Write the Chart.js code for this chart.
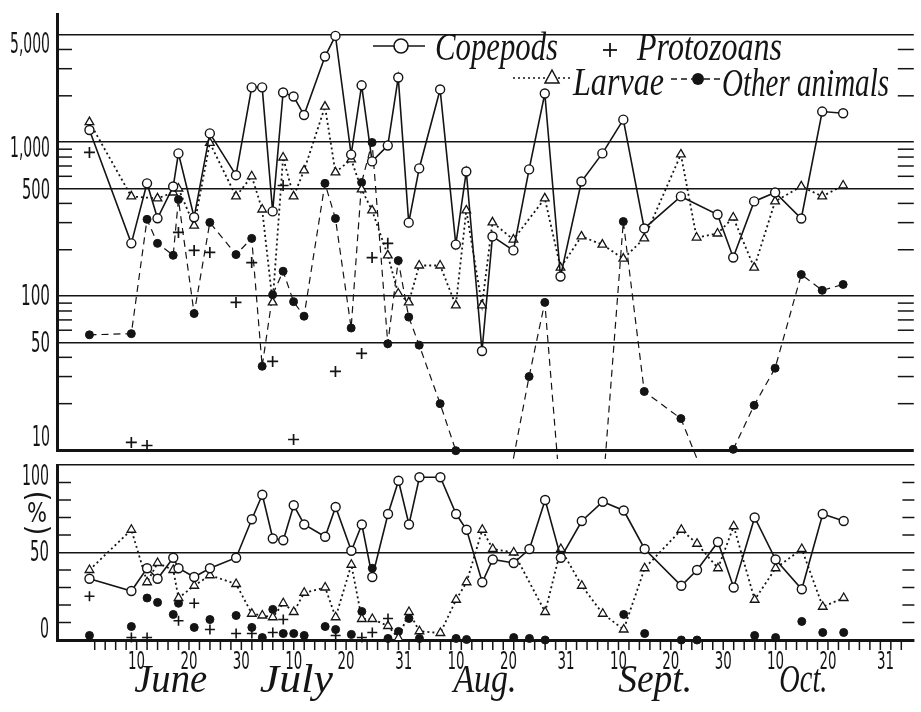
<!DOCTYPE html>
<html>
<head>
<meta charset="utf-8">
<script src="https://cdn.jsdelivr.net/npm/chart.js@4.4.1/dist/chart.umd.min.js"></script>
<style>
  html, body { margin: 0; padding: 0; background: #fff; }
  #wrap { position: relative; width: 921px; height: 712px; overflow: hidden; }
  #topBox { position: absolute; left: 0; top: 0; width: 921px; height: 460px; }
  #botBox { position: absolute; left: 0; top: 455px; width: 921px; height: 257px; }
</style>
</head>
<body>
<div id="wrap">
  <div id="topBox"><canvas id="countChart"></canvas></div>
  <div id="botBox"><canvas id="percentChart"></canvas></div>
</div>
<script>
// sampling dates, counted in days from 31 May (1 = 1 June, 31 = 1 July ...)
const sampleDays = [1, 9, 12, 14, 17, 18, 21, 24, 29, 32, 34, 36, 38, 40, 42, 46, 48, 51, 53, 55,
  58, 60, 62, 64, 68, 71, 73, 76, 78, 82, 85, 88, 91, 95, 99, 103, 107, 114, 117, 121,
  124, 128, 132, 137, 141, 145];

// numbers per sample (log scale)
const copepodCount = [1200, 220, 540, 320, 515, 845, 325, 1140, 610, 2270, 2270, 355, 2100, 1980, 1500, 3600, 4900, 830, 2340, 750,
  950, 2630, 300, 675, 2200, 216, 645, 44, 244, 198, 665, 2070, 134, 555, 845, 1400, 275, 444, null, 339,
  178, 412, 471, 319, 1580, 1540];
const larvaeCount = [1350, 444, null, 431, 471, 500, 287, 990, 444, 600, 365, 91, 795, 444, 655, 1700, 636, 772, 493, 360,
  184, 104, 91, 158, 158, 87, 360, 87, 301, 233, null, 431, 153, 244, 216, 175, 237, 832, 240, 255,
  324, 153, 412, 516, 444, 523];
const otherCount = [56, 57, 315, 220, 184, 424, 77, 301, 186, 237, 35, 102, 145, 92, 74, 540, 319, 62, 547, 995,
  49, 170, 73, 48, 20, 9.9, null, null, null, 8.8, 30, 91, 5, null, 5, 305, 24, 16, 8.9, null,
  10.1, 19.5, 34, 138, 109, 119];
const protozoaCount = [857, 11.2, 10.7, null, null, 259, 198, 192, 91, 165, null, 37.6, 523, 11.7, null, null, 32.4, null, 42.4, 178,
  220, null, null, null, null, null, null, null, null, null, null, null, null, null, null, null, null, null, null, null,
  null, null, null, null, null, null];

// share of each group in the sample (%)
const copepodPct = [35, 28, 41, 35, 47, 41, 36, 41, 47, 69, 83, 58, 57, 77, 66, 59, 76, 51, 66, 36,
  72, 91, 66, 93, 93, 72, 63, 33, 46, 44, 52, 80, 47, 68, 79, 74, 52, 31, 40, 56,
  30, 70, 46, 29, 72, 68];
const larvaePct = [40, 63, 33, 44, 40, 24, 31, 37, 32, 15, 14, 13, 21, 16, 27, 30, 13, 43, 12, 12,
  8, 1, 16, 5, 4, 23, 33, 63, 52, 50, null, 16, 52, 31, 15, 6, 41, 63, 55, 41,
  65, 23, 41, 52, 19, 24];
const otherPct = [2.6, 7.7, 24, 21.5, 14.6, 21, 7.2, 11.7, 14, 7.2, 1.4, 17.5, 3.7, 3.7, 2.6, 7.7, 6, 3.2, 16.3, 41,
  0.9, 4.9, 12.3, 0.9, null, 0.9, 0.3, null, null, 1.4, 0.9, 0, null, null, null, 14.6, 3.7, 0, 0, null,
  null, 2.6, 1.4, 10.6, 4.3, 4.3];
const protozoaPct = [25, 1.4, 1.4, null, null, 11, 21, 6, 3.7, 3.7, null, 4.3, 11.7, null, null, null, 2.6, null, 1.4, 4.3,
  12.3, null, null, null, null, null, null, null, null, null, null, null, null, null, null, null, null, null, null, null,
  null, null, null, null, null, null];

// axis ticks and labels
const countGrid = [10, 50, 100, 500, 1000, 5000];
const countLabels = ['10', '50', '100', '500', '1,000', '5,000'];
const countMinor = [20, 30, 40, 60, 70, 80, 90, 200, 300, 400, 600, 700, 800, 900, 2000, 3000, 4000];
const pctGrid = [0, 50, 100];
const pctLabels = ['0', '50', '100'];
const pctMinor = [10, 20, 30, 40, 60, 70, 80, 90];
const dayTicks = [10, 20, 30, 40, 50, 61, 71, 81, 92, 102, 112, 122, 132, 142, 153];
const dayTickLabels = ['10', '20', '30', '10', '20', '31', '10', '20', '31', '10', '20', '30', '10', '20', '31'];
const monthNames = ['June', 'July', 'Aug.', 'Sept.', 'Oct.'];
const monthCentres = [16.5, 40.5, 76.5, 109, 137.3];

const INK = '#141414';
const NARROW = '"Liberation Sans Narrow", "DejaVu Sans Condensed", "Liberation Sans", sans-serif';
const SCRIPT = '"Liberation Serif", "DejaVu Serif", serif';
const X_MIN = -5.2, X_MAX = 158.5;

function points(values) {
  return sampleDays.map((d, i) => ({ x: d, y: values[i] }));
}

// text squeezed to a given width (the lettering is tall and narrow)
function fitText(ctx, text, x, y, font, width, align) {
  ctx.save();
  ctx.font = font;
  const w = ctx.measureText(text).width;
  ctx.translate(x, y);
  ctx.scale(width / w, 1);
  ctx.textAlign = align || 'left';
  ctx.textBaseline = 'alphabetic';
  ctx.fillStyle = INK;
  ctx.fillText(text, 0, 0);
  ctx.restore();
}

function hLine(ctx, x1, x2, y, w) {
  ctx.beginPath();
  ctx.lineWidth = w;
  ctx.moveTo(x1, y);
  ctx.lineTo(x2, y);
  ctx.stroke();
}

function yAxis(type, min, max, grid) {
  return {
    type: type, min: min, max: max,
    afterBuildTicks: s => { s.ticks = grid.map(v => ({ value: v })); },
    afterFit: s => { s.width = 57; },
    ticks: { display: false },
    grid: {
      drawTicks: false,
      color: INK,
      lineWidth: c => (c.tick && c.tick.value === min) ? 3 : 1.6
    },
    border: { display: true, color: INK, width: 3 }
  };
}

const baseOptions = (padBottom, padTop) => ({
  responsive: true,
  maintainAspectRatio: false,
  animation: false,
  layout: { padding: { top: padTop, right: 0, bottom: padBottom, left: 0 } },
  plugins: { legend: { display: false }, tooltip: { enabled: false } },
  elements: { line: { tension: 0 } }
});

// ---------- upper panel: numbers ----------
const countDecor = {
  id: 'countDecor',
  afterDraw(chart) {
    const ctx = chart.ctx, y = chart.scales.y, area = chart.chartArea;
    ctx.save();
    ctx.strokeStyle = INK;
    countMinor.forEach(v => {
      const py = y.getPixelForValue(v);
      hLine(ctx, area.left, area.left + 15, py, 1.5);
      hLine(ctx, area.right - 16, area.right, py, 1.5);
    });
    const shift = { 10: -14, 50: 0, 100: -1, 500: 1, 1000: 5, 5000: 8 };
    const widths = { 10: 18, 50: 19, 100: 29, 500: 28, 1000: 40, 5000: 40 };
    countGrid.forEach((v, i) => {
      const py = y.getPixelForValue(v) + shift[v];
      fitText(ctx, countLabels[i], 50, py + 10, '28px ' + NARROW, widths[v], 'right');
    });

    // key
    ctx.strokeStyle = INK;
    ctx.fillStyle = INK;
    hLine(ctx, 373, 425, 46, 1.5);
    ctx.beginPath(); ctx.arc(401, 46, 7, 0, Math.PI * 2);
    ctx.fillStyle = '#fff'; ctx.fill(); ctx.lineWidth = 1.6; ctx.stroke();
    fitText(ctx, 'Copepods', 435, 60, 'italic 40px ' + SCRIPT, 123);
    hLine(ctx, 603, 617, 50, 1.8);
    ctx.beginPath(); ctx.moveTo(610, 43); ctx.lineTo(610, 57); ctx.stroke();
    fitText(ctx, 'Protozoans', 637, 60, 'italic 40px ' + SCRIPT, 145);

    ctx.setLineDash([2, 3]);
    hLine(ctx, 513, 546, 78, 1.6);
    hLine(ctx, 558, 572, 78, 1.6);
    ctx.setLineDash([]);
    ctx.beginPath(); ctx.moveTo(552, 70); ctx.lineTo(559, 83); ctx.lineTo(545, 83); ctx.closePath();
    ctx.fillStyle = '#fff'; ctx.fill(); ctx.lineWidth = 1.5; ctx.stroke();
    fitText(ctx, 'Larvae', 573, 95, 'italic 40px ' + SCRIPT, 91);

    ctx.setLineDash([6, 4]);
    hLine(ctx, 671, 692, 79, 1.3);
    hLine(ctx, 704, 721, 79, 1.3);
    ctx.setLineDash([]);
    ctx.beginPath(); ctx.arc(698, 79, 6, 0, Math.PI * 2);
    ctx.fillStyle = INK; ctx.fill();
    fitText(ctx, 'Other animals', 722, 96, 'italic 40px ' + SCRIPT, 167);
    ctx.restore();
  }
};

new Chart(document.getElementById('countChart'), {
  type: 'line',
  data: {
    datasets: [
      { label: 'Protozoans', data: points(protozoaCount), showLine: false,
        pointStyle: 'cross', pointRadius: 5.5, pointBorderWidth: 1.7,
        borderColor: INK, pointBorderColor: INK, order: 0 },
      { label: 'Copepods', data: points(copepodCount), borderColor: INK, borderWidth: 1.6,
        pointStyle: 'circle', pointRadius: 4.5, pointBorderWidth: 1.4,
        pointBackgroundColor: '#fff', pointBorderColor: INK, spanGaps: true, order: 1 },
      { label: 'Larvae', data: points(larvaeCount), borderColor: INK, borderWidth: 1.8, borderDash: [2, 3],
        pointStyle: 'triangle', pointRadius: 5, pointBorderWidth: 1.3,
        pointBackgroundColor: '#fff', pointBorderColor: INK, spanGaps: true, order: 2 },
      { label: 'Other animals', data: points(otherCount), borderColor: INK, borderWidth: 1.2, borderDash: [7, 5],
        pointStyle: 'circle', pointRadius: 4, pointBorderWidth: 1,
        pointBackgroundColor: INK, pointBorderColor: INK, spanGaps: false, order: 3,
        clip: { left: false, top: false, right: false, bottom: 9 } }
    ]
  },
  options: Object.assign(baseOptions(10, 14), {
    scales: {
      x: { type: 'linear', min: X_MIN, max: X_MAX, display: false },
      y: yAxis('logarithmic', 10, 6800, countGrid)
    }
  }),
  plugins: [countDecor]
});

// ---------- lower panel: percentages ----------
const pctDecor = {
  id: 'pctDecor',
  afterDraw(chart) {
    const ctx = chart.ctx, x = chart.scales.x, y = chart.scales.y, area = chart.chartArea;
    ctx.save();
    ctx.strokeStyle = INK;
    pctMinor.forEach(v => {
      const py = y.getPixelForValue(v);
      hLine(ctx, area.left, area.left + 14, py, 1.5);
      hLine(ctx, area.right - 12, area.right, py, 1.5);
    });
    // ticks under the time axis, every second day
    ctx.lineWidth = 1.5;
    for (let d = 2; d <= 156; d += 2) {
      const px = x.getPixelForValue(d);
      ctx.beginPath(); ctx.moveTo(px, area.bottom); ctx.lineTo(px, area.bottom + 10); ctx.stroke();
    }
    const shift = { 0: -12, 50: -2, 100: 10 };
    const widths = { 0: 9, 50: 19, 100: 27 };
    pctGrid.forEach((v, i) => {
      const py = y.getPixelForValue(v) + shift[v];
      fitText(ctx, pctLabels[i], 49, py + 10, '28px ' + NARROW, widths[v], 'right');
    });
    // (%) with the brackets turned on their side
    const mid = y.getPixelForValue(72);
    fitText(ctx, '%', 37, mid + 8, '26px ' + NARROW, 20, 'center');
    ['(', ')'].forEach((b, k) => {
      ctx.save();
      ctx.translate(36, mid + (k === 0 ? -18 : 16));
      ctx.rotate(Math.PI / 2);
      ctx.font = '30px ' + NARROW;
      ctx.textAlign = 'center';
      ctx.textBaseline = 'middle';
      ctx.fillStyle = INK;
      ctx.fillText(b, 0, 0);
      ctx.restore();
    });

    dayTicks.forEach((d, i) => {
      fitText(ctx, dayTickLabels[i], x.getPixelForValue(d), area.bottom + 29, '24px ' + NARROW, 17, 'center');
    });
    const monthWidths = [73, 73, 63, 74, 48];
    monthNames.forEach((m, i) => {
      fitText(ctx, m, x.getPixelForValue(monthCentres[i]), area.bottom + 52, 'italic 40px ' + SCRIPT, monthWidths[i], 'center');
    });
    ctx.restore();
  }
};

new Chart(document.getElementById('percentChart'), {
  type: 'line',
  data: {
    datasets: [
      { label: 'Protozoans', data: points(protozoaPct), showLine: false,
        pointStyle: 'cross', pointRadius: 5, pointBorderWidth: 1.6,
        borderColor: INK, pointBorderColor: INK, order: 0, clip: false },
      { label: 'Copepods', data: points(copepodPct), borderColor: INK, borderWidth: 1.6,
        pointStyle: 'circle', pointRadius: 4.5, pointBorderWidth: 1.4,
        pointBackgroundColor: '#fff', pointBorderColor: INK, spanGaps: true, order: 1, clip: false },
      { label: 'Larvae', data: points(larvaePct), borderColor: INK, borderWidth: 1.8, borderDash: [2, 3],
        pointStyle: 'triangle', pointRadius: 5, pointBorderWidth: 1.3,
        pointBackgroundColor: '#fff', pointBorderColor: INK, spanGaps: true, order: 2, clip: false },
      { label: 'Other animals', data: points(otherPct), showLine: false,
        pointStyle: 'circle', pointRadius: 4, pointBorderWidth: 1,
        pointBackgroundColor: INK, pointBorderColor: INK, order: 3, clip: false }
    ]
  },
  options: Object.assign(baseOptions(72, 10), {
    scales: {
      x: { type: 'linear', min: X_MIN, max: X_MAX, display: false },
      y: yAxis('linear', 0, 100, pctGrid)
    }
  }),
  plugins: [pctDecor]
});
</script>
</body>
</html>
